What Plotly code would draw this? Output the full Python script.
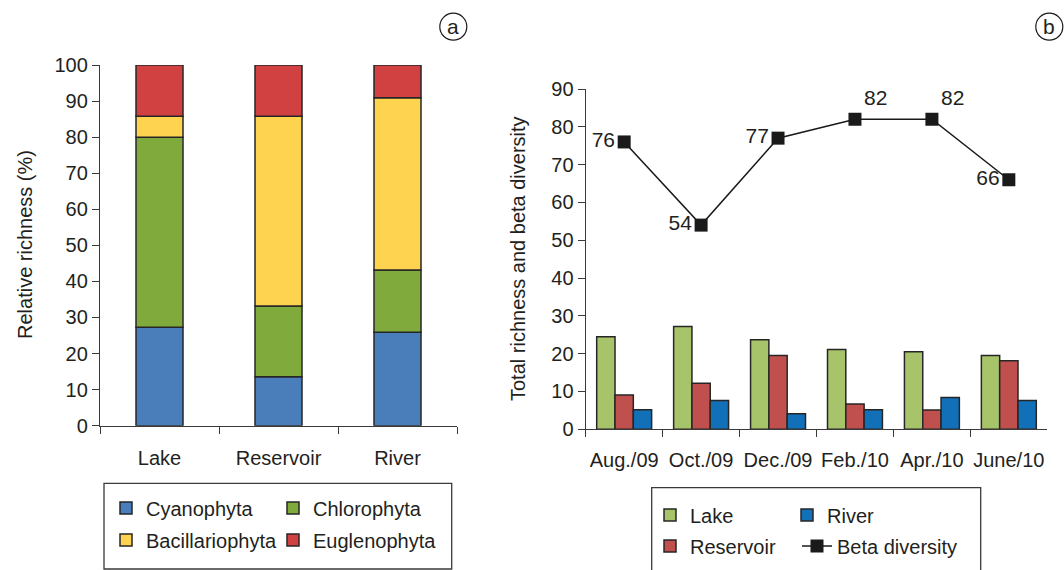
import numpy as np
import plotly.graph_objects as go

W, H = 1064, 570

# ---------------- data ----------------
sites = ["Lake", "Reservoir", "River"]
cyanophyta = [27.3, 13.6, 25.9]
chlorophyta = [52.7, 19.6, 17.3]
bacillariophyta = [5.8, 52.6, 47.7]
euglenophyta = [14.2, 14.2, 9.1]

months = ["Aug./09", "Oct./09", "Dec./09", "Feb./10", "Apr./10", "June/10"]
lake = [24.5, 27.2, 23.7, 21.1, 20.5, 19.5]
reservoir = [9.1, 12.2, 19.5, 6.7, 5.1, 18.1]
river = [5.2, 7.6, 4.1, 5.2, 8.4, 7.6]
beta = [76, 54, 77, 82, 82, 66]
beta_textpos = ["middle left", "middle left", "middle left", "top right", "top right", "middle left"]

FONT = "Liberation Sans, Arial, Helvetica, sans-serif"
TXT = "#231f20"
EDGE = "#262626"
AX = "#3a3a3a"


def px(x):
    return x / W


def py(y):
    return 1 - y / H


fig = go.Figure()

# ---------------- panel a: stacked relative richness ----------------
groups_a = [
    ("Cyanophyta", cyanophyta, "#4a7ebb", "legend"),
    ("Chlorophyta", chlorophyta, "#80aa3c", "legend"),
    ("Bacillariophyta", bacillariophyta, "#fed350", "legend2"),
    ("Euglenophyta", euglenophyta, "#d24141", "legend2"),
]
base = np.zeros(len(sites))
for name, vals, col, lg in groups_a:
    fig.add_trace(go.Bar(
        x=sites, y=vals, base=base.copy(), name=name,
        xaxis="x", yaxis="y", width=0.395, offset=-0.1975,
        marker=dict(color=col, line=dict(color=EDGE, width=1.5)),
        legend=lg,
    ))
    base = base + np.array(vals)

# ---------------- panel b: grouped richness + beta diversity ----------------
groups_b = [
    ("Lake", lake, "#a8c46a", "legend3", 1),
    ("Reservoir", reservoir, "#c0504d", "legend4", 1),
    ("River", river, "#1270b8", "legend3", 2),
]
for name, vals, col, lg, rank in groups_b:
    fig.add_trace(go.Bar(
        x=months, y=vals, name=name, xaxis="x2", yaxis="y2",
        marker=dict(color=col, line=dict(color=EDGE, width=1.5)),
        legend=lg, legendrank=rank,
    ))

fig.add_trace(go.Scatter(
    x=months, y=beta, name="Beta diversity", xaxis="x2", yaxis="y2",
    mode="lines+markers+text",
    line=dict(color="#1a1a1a", width=1.5),
    marker=dict(symbol="square", size=13, color="#1a1a1a"),
    text=[str(v) for v in beta], textposition=beta_textpos,
    textfont=dict(family=FONT, size=21, color=TXT),
    legend="legend5", cliponaxis=False,
))

axis_common = dict(
    showline=True, linecolor=AX, linewidth=1.3, ticks="outside", ticklen=7,
    tickcolor=AX, tickwidth=1.3, showgrid=False, zeroline=False,
    tickfont=dict(family=FONT, size=20, color=TXT), automargin=False,
)


def leg(x, y, ew=None):
    d = dict(
        orientation="h", x=px(x), y=py(y), xanchor="left", yanchor="middle",
        traceorder="normal", bgcolor="rgba(0,0,0,0)", borderwidth=0,
        font=dict(family=FONT, size=20, color=TXT),
    )
    if ew:
        d.update(entrywidth=ew, entrywidthmode="pixels")
    return d


fig.update_layout(
    width=W, height=H,
    margin=dict(l=0, r=0, t=0, b=0, autoexpand=False),
    paper_bgcolor="white", plot_bgcolor="white",
    font=dict(family=FONT, size=20, color=TXT),
    barmode="group", bargap=0.286, bargroupgap=0,
    xaxis=dict(domain=[px(100), px(457)], anchor="y", range=[-0.5, 2.5],
               tickson="boundaries", ticklabelstandoff=14, tickangle=0, **axis_common),
    yaxis=dict(domain=[py(425.7), py(65)], anchor="x", range=[0, 100],
               tickvals=list(range(0, 101, 10)), **axis_common),
    xaxis2=dict(domain=[px(585.7), px(1047.3)], anchor="y2", range=[-0.5, 5.5],
                tickson="boundaries", ticklabelstandoff=13, tickangle=0, **axis_common),
    yaxis2=dict(domain=[py(429.3), py(89)], anchor="x2", range=[0, 90],
                tickvals=list(range(0, 91, 10)), **axis_common),
    legend=leg(106, 508, 122),
    legend2=leg(106, 540, 122),
    legend3=leg(650, 515, 92),
    legend4=leg(650, 546),
    legend5=leg(797, 546),
    showlegend=True,
)

# legend frames
fig.add_shape(type="rect", xref="paper", yref="paper",
              x0=px(104), x1=px(451.7), y0=py(569), y1=py(483.3),
              line=dict(color=AX, width=1.3))
fig.add_shape(type="rect", xref="paper", yref="paper",
              x0=px(651.7), x1=px(980.7), y0=py(580), y1=py(487.7),
              line=dict(color=AX, width=1.3))

# axis titles
fig.add_annotation(text="Relative richness (%)", xref="paper", yref="paper",
                   x=px(25), y=py(245), textangle=-90, showarrow=False,
                   xanchor="center", yanchor="middle",
                   font=dict(family=FONT, size=20, color=TXT))
fig.add_annotation(text="Total richness and beta diversity", xref="paper", yref="paper",
                   x=px(518), y=py(259), textangle=-90, showarrow=False,
                   xanchor="center", yanchor="middle",
                   font=dict(family=FONT, size=20, color=TXT))

# circled panel letters
for letter, cx, cy in [("a", 453.3, 26.7), ("b", 1049.3, 26.7)]:
    r = 13.5
    fig.add_shape(type="circle", xref="paper", yref="paper",
                  x0=px(cx - r), x1=px(cx + r), y0=py(cy + r), y1=py(cy - r),
                  line=dict(color="#1a1a1a", width=1.2))
    fig.add_annotation(text=letter, xref="paper", yref="paper", x=px(cx), y=py(cy),
                       xanchor="center", yanchor="middle",
                       showarrow=False, font=dict(family=FONT, size=21, color=TXT))

fig.write_html("out.html", config={"displayModeBar": False},
               post_script="document.body.style.margin='0px';")
